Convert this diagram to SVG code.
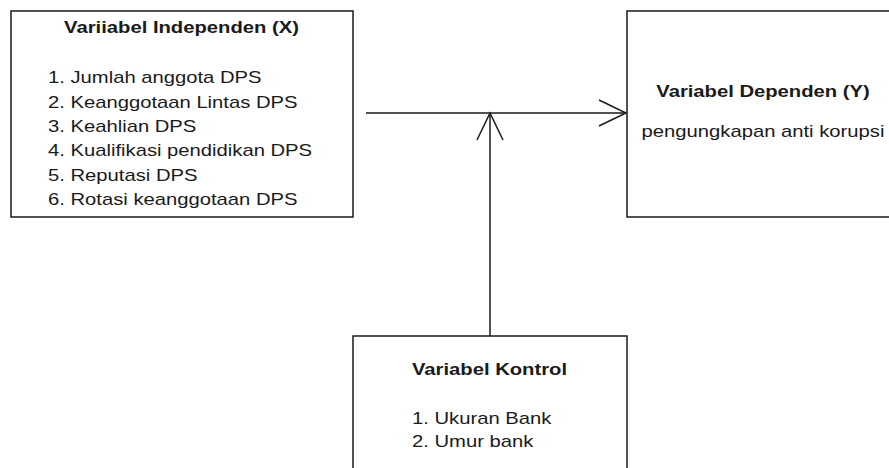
<svg xmlns="http://www.w3.org/2000/svg" width="889" height="468" viewBox="0 0 889 468">
<style>
.box{fill:#fff;stroke:#1a1a1a;stroke-width:1.5}
.t{font-family:"Liberation Sans",Arial,sans-serif;font-size:17px;fill:#1a1a1a}
.b{font-weight:bold}
.c{text-anchor:middle}
.edge{fill:none;stroke:#1a1a1a;stroke-width:1.5}
</style>
<defs>
<marker id="open" markerUnits="userSpaceOnUse" markerWidth="32" markerHeight="32" viewBox="-30 -16 32 32" refX="0" refY="0" orient="auto" overflow="visible">
<path d="M-27,-13 L0,0 L-27,13" fill="none" stroke="#1a1a1a" stroke-width="1.5"/>
</marker>
</defs>
<rect width="889" height="468" fill="#fff"/>
<g id="independen">
<rect class="box" x="11" y="11" width="342" height="206"/>
<g transform="translate(181.5,0) scale(1.19,1)"><text class="t b c" x="0" y="33.5">Variiabel Independen (X)</text></g>
<g transform="translate(48,0) scale(1.19,1)">
<text class="t" x="0" y="83.3">1. Jumlah anggota DPS</text>
<text class="t" x="0" y="107.7">2. Keanggotaan Lintas DPS</text>
<text class="t" x="0" y="132.1">3. Keahlian DPS</text>
<text class="t" x="0" y="156.5">4. Kualifikasi pendidikan DPS</text>
<text class="t" x="0" y="180.9">5. Reputasi DPS</text>
<text class="t" x="0" y="205.3">6. Rotasi keanggotaan DPS</text>
</g>
</g>
<g id="dependen">
<rect class="box" x="627" y="11" width="276" height="206"/>
<g transform="translate(763,0) scale(1.19,1)">
<text class="t b c" x="0" y="97.5">Variabel Dependen (Y)</text>
<text class="t c" x="0" y="136.7">pengungkapan anti korupsi</text>
</g>
</g>
<g id="kontrol">
<rect class="box" x="353" y="336" width="274" height="200"/>
<g transform="translate(489.5,0) scale(1.19,1)"><text class="t b c" x="0" y="375.5">Variabel Kontrol</text></g>
<g transform="translate(412,0) scale(1.19,1)">
<text class="t" x="0" y="424">1. Ukuran Bank</text>
<text class="t" x="0" y="447">2. Umur bank</text>
</g>
</g>
<g id="connectors">
<path class="edge" d="M366,113 L626,113" marker-end="url(#open)"/>
<path class="edge" d="M490,336 L490,113" marker-end="url(#open)"/>
</g>
</svg>
